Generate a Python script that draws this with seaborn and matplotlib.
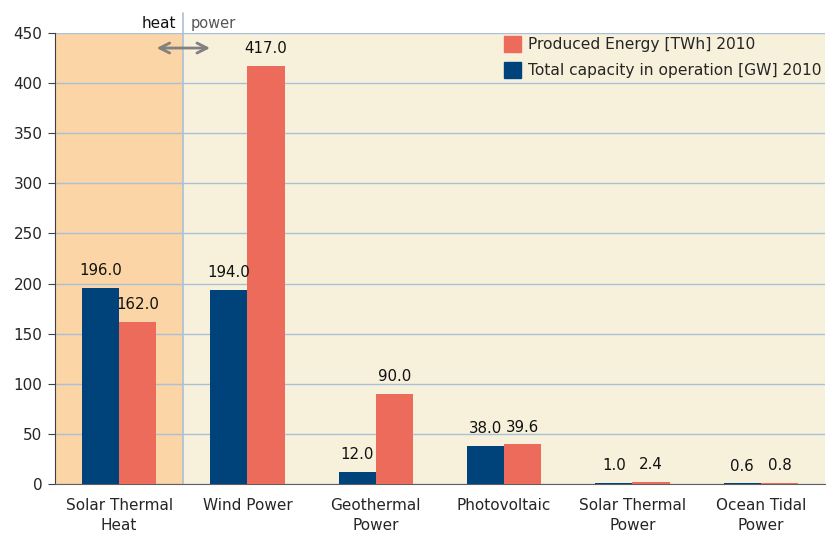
import pandas as pd
import matplotlib
matplotlib.use('Agg')
import matplotlib.pyplot as plt
import seaborn as sns
from matplotlib.patches import Patch

# Данные
categories = ['Solar Thermal\nHeat', 'Wind Power', 'Geothermal\nPower', 'Photovoltaic',
              'Solar Thermal\nPower', 'Ocean Tidal\nPower']
capacity_gw = [196.0, 194.0, 12.0, 38.0, 1.0, 0.6]
energy_twh = [162.0, 417.0, 90.0, 39.6, 2.4, 0.8]
series_names = ['Total capacity in operation [GW] 2010', 'Produced Energy [TWh] 2010']
y_ticks = [0, 50, 100, 150, 200, 250, 300, 350, 400, 450]

blue = '#00427A'
red = '#EC6B5A'
bg_power = '#F7F1DC'
bg_heat = '#FBD5A5'
grid_col = '#A9C0D6'

df = pd.DataFrame({
    'category': categories * 2,
    'value': capacity_gw + energy_twh,
    'series': [series_names[0]] * len(categories) + [series_names[1]] * len(categories),
})

sns.set_style('white')
plt.rcParams['font.family'] = ['DejaVu Sans']

fig = plt.figure(figsize=(8.26, 5.33), dpi=100)
ax = fig.add_axes([55 / 826, 1 - 484 / 533, 770 / 826, 451 / 533])
ax.set_facecolor(bg_power)

ax.axvspan(-0.5, 0.5, color=bg_heat, zorder=0, lw=0)

sns.barplot(data=df, x='category', y='value', hue='series', order=categories,
            hue_order=series_names, palette=[blue, red], width=0.58, saturation=1,
            edgecolor='none', ax=ax, legend=False, zorder=3)

for cont in ax.containers:
    ax.bar_label(cont, fmt='%.1f', padding=7, fontsize=10.8, color='#111111')

ax.set_xlim(-0.5, 5.5)
ax.set_ylim(0, 450)
ax.set_yticks(y_ticks)
ax.yaxis.grid(True, color=grid_col, lw=1, zorder=1)
ax.set_axisbelow(True)
ax.set_xlabel('')
ax.set_ylabel('')

ax.set_xticks(range(len(categories)))
ax.set_xticklabels(categories, fontsize=11, linespacing=1.4)
ax.set_xticks([i - 0.5 for i in range(len(categories) + 1)], minor=True)
ax.tick_params(axis='x', which='major', length=0, pad=10)
ax.tick_params(axis='x', which='minor', length=7, color='#404040', width=1)
ax.tick_params(axis='y', length=5, color='#404040', labelsize=11, pad=4, left=True)

for s in ['top', 'right']:
    ax.spines[s].set_visible(False)
ax.spines['left'].set_color('#404040')
ax.spines['bottom'].set_color('#606060')

# граница heat | power
ax.axvline(0.5, ymin=0, ymax=471 / 451, color=grid_col, lw=1.2, clip_on=False, zorder=2)
ax.annotate('', xy=(0.27, 435), xytext=(0.73, 435),
            arrowprops=dict(arrowstyle='<->', color='#808080', lw=2, mutation_scale=18), zorder=4)
ax.text(0.44, 1.005, 'heat', transform=ax.get_xaxis_transform(), ha='right', va='bottom',
        fontsize=11, color='#111111')
ax.text(0.56, 1.005, 'power', transform=ax.get_xaxis_transform(), ha='left', va='bottom',
        fontsize=10.5, color='#555555')

handles = [Patch(color=red), Patch(color=blue)]
ax.legend(handles, [series_names[1], series_names[0]], loc='upper right',
          bbox_to_anchor=(1.013, 1.025), frameon=False, fontsize=11.2,
          handlelength=1.1, handleheight=1.2, handletextpad=0.4, labelspacing=0.65)

fig.savefig('out.png', dpi=100)
